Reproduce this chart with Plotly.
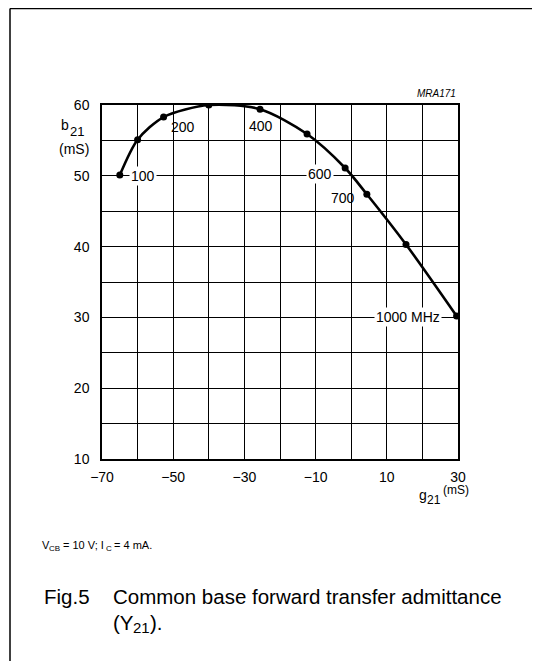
import plotly.graph_objects as go

# ---- data ----
g21 = [-65.0, -60.0, -52.7, -40.0, -25.6, -12.4, -1.7, 4.4, 15.4, 29.6]
b21 = [50.1, 55.1, 58.3, 60.0, 59.4, 55.9, 51.1, 47.4, 40.3, 30.2]

label_text = ["100", "200", "400", "600", "700", "1000 MHz"]
label_x = [-58.6, -47.2, -25.3, -8.8, -2.2, 16.0]
label_y = [50.0, 56.9, 57.0, 50.2, 46.9, 30.1]
label_bg = [True, False, False, True, False, True]

x_tickvals = [-70, -60, -50, -40, -30, -20, -10, 0, 10, 20, 30]
x_ticktext = ["\u221270", "", "\u221250", "", "\u221230", "", "\u221210", "", "10", "", "30"]
y_tickvals = [10, 15, 20, 25, 30, 35, 40, 45, 50, 55, 60]
y_ticktext = ["10", "", "20", "", "30", "", "40", "", "50", "", "60"]

OFF = 8                      # page body margin of the html
W, H = 540 - OFF, 661 - OFF
L, R, T, B = 102, 458, 105, 459   # plot area in window pixels
FONT = "Liberation Sans, Arial, sans-serif"


def px(x):
    return (x - L) / (R - L)


def py(y):
    return (B - y) / (B - T)


def txt(x, y, text, size, xanchor="left"):
    return dict(x=px(x), y=py(y), xref="paper", yref="paper", text=text,
                showarrow=False, xanchor=xanchor, yanchor="middle",
                font=dict(family=FONT, size=size, color="black"))


fig = go.Figure()
fig.add_trace(go.Scatter(
    x=g21, y=b21, mode="lines+markers",
    line=dict(color="black", width=2.6, shape="spline", smoothing=0.8),
    marker=dict(color="black", size=7),
    hoverinfo="skip", showlegend=False,
))

annotations = []
for t, x, y, bg in zip(label_text, label_x, label_y, label_bg):
    annotations.append(dict(
        x=x, y=y, xref="x", yref="y", text=t, showarrow=False,
        font=dict(family=FONT, size=14, color="black"),
        bgcolor="white" if bg else "rgba(0,0,0,0)", borderpad=1,
        xanchor="center", yanchor="middle",
    ))

annotations += [
    txt(59, 125, "b", 14),
    txt(68, 131, "21", 13),
    txt(57, 149, "(mS)", 14),
    txt(417, 495, "g", 14),
    txt(425, 500, "21", 12),
    txt(441, 490, "(mS)", 12),
    txt(458, 93, "<i>MRA171</i>", 10, xanchor="right"),
    txt(40, 545, "V", 11),
    txt(47.5, 548, "CB", 8),
    txt(61, 545, "= 10 V; I", 11),
    txt(104, 548, "C", 8),
    txt(112, 545, "= 4 mA.", 11),
    txt(42, 596, "Fig.5", 20.5),
    txt(111, 596, "Common base forward transfer admittance", 20.5),
    txt(111, 622, "(Y", 20.5),
    txt(131, 627, "21", 15),
    txt(148, 622, ").", 20.5),
]

shapes = [
    dict(type="line", xref="paper", yref="paper", x0=px(10), x1=px(545),
         y0=py(8.5), y1=py(8.5), line=dict(color="black", width=1.5)),
    dict(type="line", xref="paper", yref="paper", x0=px(10), x1=px(10),
         y0=py(8.5), y1=py(670), line=dict(color="black", width=1.5)),
]

fig.update_layout(
    width=W, height=H,
    margin=dict(l=L - OFF, r=W - (R - OFF), t=T - OFF, b=H - (B - OFF), pad=0),
    paper_bgcolor="white", plot_bgcolor="white",
    font=dict(family=FONT, size=14, color="black"),
    annotations=annotations, shapes=shapes,
    xaxis=dict(range=[-70, 30], tickvals=x_tickvals, ticktext=x_ticktext,
               showgrid=True, gridcolor="black", gridwidth=1,
               showline=True, linecolor="black", linewidth=1.5, mirror=True,
               ticks="", zeroline=False, ticklabelstandoff=4,
               tickfont=dict(family=FONT, size=14, color="black")),
    yaxis=dict(range=[10, 60], tickvals=y_tickvals, ticktext=y_ticktext,
               showgrid=True, gridcolor="black", gridwidth=1,
               showline=True, linecolor="black", linewidth=1.5, mirror=True,
               ticks="", zeroline=False, ticklabelstandoff=8,
               tickfont=dict(family=FONT, size=14, color="black")),
)

fig.write_html("out.html")
